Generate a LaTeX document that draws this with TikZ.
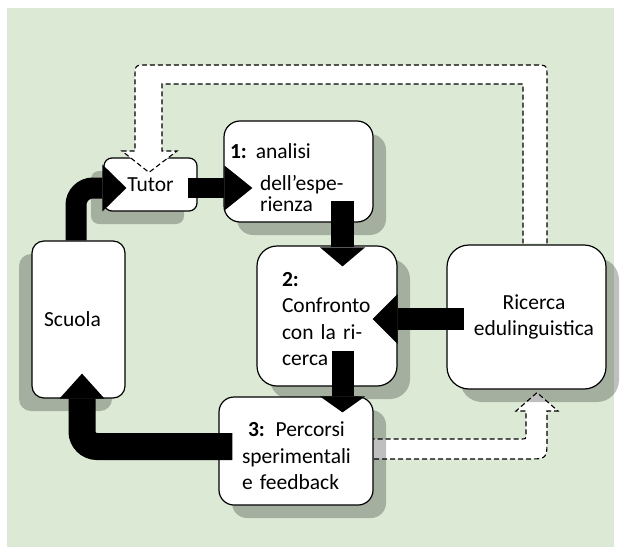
\documentclass[tikz,border=0pt]{standalone}
\usepackage{fontspec}
\setmainfont{Carlito}
\usetikzlibrary{arrows.meta, shadows, calc}
\definecolor{bggreen}{RGB}{220,234,213}
\pgfdeclarelayer{back}
\pgfdeclarelayer{mid}
\pgfsetlayers{back,mid,main}

\begin{document}
\begin{tikzpicture}[x = 1pt, y = -1pt, font = \fontsize{21.5pt}{26.5pt}\selectfont]
			    \tikzstyle{box}=[draw,line width = 1.2pt,fill=white,rounded corners=#1,inner sep=0pt]
			    \tikzstyle{shr}=[drop shadow={shadow xshift=13pt,shadow yshift=-13pt,fill=black,opacity=.25}]
			    \tikzstyle{shl}=[drop shadow={shadow xshift=-13pt,shadow yshift=-13pt,fill=black,opacity=.25}]
			    \tikzstyle{blk}=[draw,line width = #1,black]
			    \tikzstyle{dsh}=[draw,fill=white,line width = 1.1pt,dash pattern=on 5pt off 3pt]
			    \useasboundingbox (0,0) rectangle (621,554);
			    \begin{pgfonlayer}{back}
			    \fill[white] (0,0) rectangle (621,554);
			    \fill[bggreen] (7,8) rectangle (614,547);
			    \end{pgfonlayer}
			    \node[box=8pt,shl,minimum width=93pt,minimum height=53pt] (tutor) at (150.5,184.5) {Tutor};
			    \node[box=16pt,shr,minimum width=149pt,minimum height=101pt,text width=137pt,align=left] (ana) at (298.5,171.5) {\rule{0pt}{27pt}\textbf{1:}\hspace{9pt}analisi\\[5.5pt]\hspace*{30pt}dell'espe-\\[-5.5pt]\hspace*{30pt}rienza};
			    \node[box=20pt,shr,minimum width=140pt,minimum height=140pt,text width=90pt,align=left] (conf) at (327,316) {\rule{0pt}{20pt}\textbf{2:}\\Confronto\\con la ri-\\cerca};
			    \node[box=22pt,shr,minimum width=159pt,minimum height=144pt,align=center] (ric) at (526.5,317) {\hspace*{15pt}Ricerca\\\hspace*{15pt}edulinguistica};
			    \node[box=12pt,shl,minimum width=93pt,minimum height=157pt] (scuola) at (78.5,319.5) {Scuola\hspace*{12pt}};
			    \node[box=15pt,shr,minimum width=154pt,minimum height=108pt,text width=108pt,align=left] (perc) at (296,451) {\rule{0pt}{25pt}\hspace*{6pt}\textbf{3:} Percorsi\\sperimentali\\e feedback};
			    \draw[dsh] ($(ric.north)+(20.5,-1)$) -- (547,77) .. controls (547,65) .. (535,65) -- (147,65) .. controls (135,65) .. (135,77) -- (135,151) -- (122,151) -- ($(tutor.north)+(-1.5,15)$) -- (177,151) -- (162,151) -- (162,84) -- (523,84) -- ($(ric.north)+(-3.5,-1)$);
			    \begin{pgfonlayer}{mid}
			    \draw[dsh] ($(perc.east)+(-4,-12)$) -- (521,439) .. controls (526,439) .. (526,434) -- (526,411) -- (516,411) -- ($(ric.south)+(10.5,3)$) -- (558,411) -- (547,411) -- (547,439) .. controls (547,459) .. (527,459) -- ($(perc.east)+(-4,8)$);
			    \end{pgfonlayer}
			    \draw[blk=21pt,-{Triangle[width=47pt,length=24pt,line width=0pt]},rounded corners=17pt] ($(scuola.north)+(-2.5,0)$) |- ($(tutor.west)+(23,3.5)$);
			    \draw[blk=20pt,-{Triangle[width=45pt,length=28pt,line width=0pt]}] ($(tutor.east)+(-10,3.5)$) -- ($(ana.west)+(29,16.5)$);
			    \draw[blk=23pt,-{Triangle[width=45pt,length=19pt,line width=0pt]}] ($(ana.south)+(44,-22)$) -- ($(conf.north)+(15.5,21)$);
			    \draw[blk=22pt,-{Triangle[width=45pt,length=16pt,line width=0pt]}] ($(conf.south)+(15.5,-36)$) -- ($(perc.north)+(46.5,16)$);
			    \draw[blk=22pt,-{Triangle[width=50pt,length=25pt,line width=0pt]}] ($(ric.west)+(18,2)$) -- ($(conf.east)+(-25,3)$);
			    \draw[blk=27pt,-{Triangle[width=45pt,length=25pt,line width=0pt]},rounded corners=15pt] ($(perc.west)+(14,-4.5)$) -| ($(scuola.south)+(3.5,-25)$);
			\end{tikzpicture}
\end{document}
